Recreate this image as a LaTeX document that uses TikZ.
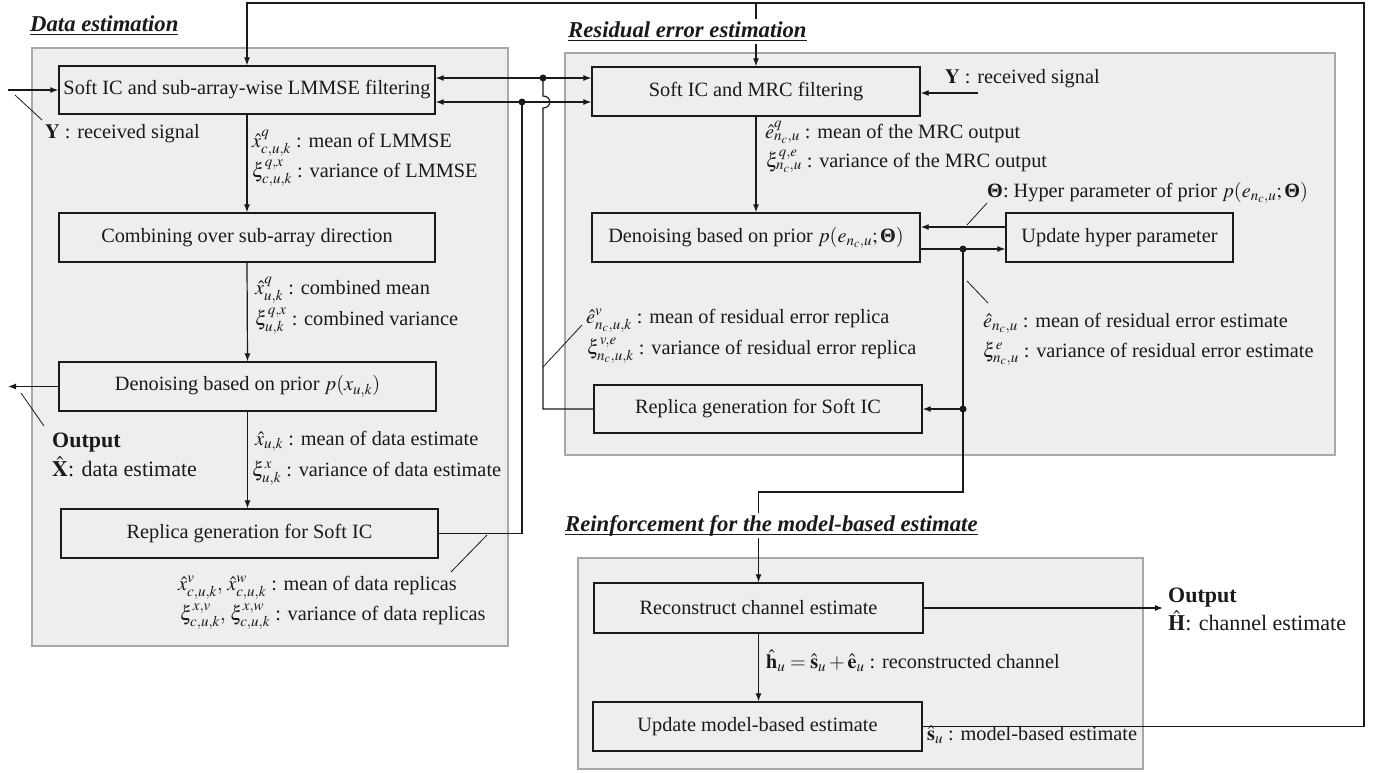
\documentclass[tikz,border=0pt]{standalone}
\usepackage{mathptmx}
\usepackage{fontspec}
\setmainfont{Liberation Serif}
\usetikzlibrary{arrows.meta}
\definecolor{panelfill}{HTML}{EDEEF0}
\definecolor{panelline}{HTML}{A8A8A8}
\definecolor{ink}{HTML}{1A1A1A}
\newcommand\ttltext[1]{\underline{\raisebox{0pt}[\height][0pt]{#1}}}
\begin{document}
\begin{tikzpicture}[x=1pt,y=-1pt,
  every node/.style={font=\fontsize{20.3}{24.4}\selectfont, text=ink},
  panel/.style={draw=panelline, line width=1.5pt, fill=panelfill},
  box/.style={draw=ink, line width=1.3pt, inner sep=0pt},
  conn/.style={draw=ink, line width=1.2pt},
  arr/.style={conn, -{Latex[length=8pt,width=6pt]}},
  darr/.style={conn, {Latex[length=8pt,width=6pt]}-{Latex[length=8pt,width=6pt]}},
  dot/.style={circle, fill=ink, inner sep=0pt, minimum size=7pt},
  tick/.style={draw=ink, line width=0.8pt},
  lbl/.style={anchor=base west, inner sep=0pt},
  outlbl/.style={lbl, font=\fontsize{22}{26}\selectfont},
  ttl/.style={anchor=base west, inner xsep=0pt, inner ysep=2.5pt, fill=white,
    font=\fontsize{22.7}{27}\selectfont\bfseries\itshape}
]
\useasboundingbox (0,0) rectangle (1380,772);

% panels
\path[panel] (32,48) rectangle (508,646);
\path[panel] (565,53) rectangle (1335,455);
\path[panel] (578,558) rectangle (1143,769);

% boxes - data estimation
\node[box, minimum width=376pt, minimum height=48pt] (L1) at (247,90) {Soft IC and sub-array-wise LMMSE filtering};
\node[box, minimum width=376pt, minimum height=49pt] (L2) at (247,237.5) {Combining over sub-array direction};
\node[box, minimum width=377pt, minimum height=49pt] (L3) at (247.5,386.5) {Denoising based on prior $p(x_{u,k})$};
\node[box, minimum width=377pt, minimum height=49pt] (L4) at (249.5,533.5) {Replica generation for Soft IC};

% boxes - residual error estimation
\node[box, minimum width=328pt, minimum height=49pt] (R1) at (756,91.5) {Soft IC and MRC filtering};
\node[box, minimum width=328pt, minimum height=49pt] (R2) at (756,237.5) {Denoising based on prior $p(e_{n_c,u};\mbox{\bfseries Θ})$};
\node[box, minimum width=227pt, minimum height=49pt] (R3) at (1119.5,237.5) {Update hyper parameter};
\node[box, minimum width=328pt, minimum height=48pt] (R4) at (758,409) {Replica generation for Soft IC};

% boxes - reinforcement
\node[box, minimum width=329pt, minimum height=50pt] (B1) at (758.5,608) {Reconstruct channel estimate};
\node[box, minimum width=329pt, minimum height=49pt] (B2) at (757.5,726.5) {Update model-based estimate};

% coordinates
\coordinate (fb) at (1364,3);
\coordinate (yinL) at (8,90);
\coordinate (xout) at (8,386.5);
\coordinate (yinR) at (978,93);
\coordinate (hout) at (1163,608);
\coordinate (rb) at (963,492);
\node[dot] (j1) at (543,78) {};
\node[dot] (j2) at (522,102) {};
\node[dot] (j3) at (963,249) {};
\node[dot] (j4) at (963,409) {};

% feedback from model-based estimate
\draw[arr] (B2.east) -| (fb) -| (L1.north);
\draw[arr] (fb -| R1.north) -- (R1.north);

% data estimation chain
\draw[arr] (yinL) -- (L1.west);
\draw[arr] (L1.south) -- (L2.north);
\draw[arr] (L2.south) -- (L3.north);
\draw[arr] (L3.south) -- (L3.south |- L4.north);
\draw[arr] (L3.west) -- (xout);

% links between data and residual estimation
\draw[darr] ([yshift=12pt]L1.east) -- ([yshift=12pt]L1.east -| R1.west);
\draw[darr] ([yshift=-12pt]L1.east) -- ([yshift=-12pt]L1.east -| R1.west);
\draw[conn] (L4.east) -| (j2.center);
\draw[conn] (j1.center) -- (543,96) .. controls (552,96) and (552,108) .. (543,108) -- (j1 |- R4.west) -- (R4.west);

% residual estimation chain
\draw[arr] (yinR) -- (yinR -| R1.east);
\draw[arr] (R1.south) -- (R2.north);
\draw[arr] ([yshift=10.5pt]R3.west) -- ([yshift=10.5pt]R3.west -| R2.east);
\draw[arr] ([yshift=-11.5pt]R2.east) -- ([yshift=-11.5pt]R2.east -| R3.west);
\draw[arr] (j4.center) -- (R4.east);
\draw[arr] (j3.center) -- (rb) -| (B1.north);

% reinforcement chain
\draw[arr] (B1.south) -- (B1.south |- B2.north);
\draw[arr] (B1.east) -- (hout);

% ticks
\draw[tick] (15,95) -- (42,120);
\draw[tick] (21,393) -- (44,426);
\draw[tick] (487,535) -- (451,572);
\draw[tick] (543,367) -- (582,325);
\draw[tick] (967,225) -- (987,203);
\draw[tick] (967,281) -- (988,303);

% labels
\node[lbl] (t1) at (45,138) {$\mathbf{Y}$ : received signal};
\node[lbl] (t2) at (252,147) {$\hat{x}^{q}_{c,u,k}$ : mean of LMMSE};
\node[lbl] (t3) at (252,177) {$\xi^{q,x}_{c,u,k}$ : variance of LMMSE};
\node[lbl] (t4) at (255,294) {$\hat{x}^{q}_{u,k}$ : combined mean};
\node[lbl] (t5) at (255,325) {$\xi^{q,x}_{u,k}$ : combined variance};
\node[lbl] (t6) at (255,445) {$\hat{x}_{u,k}$ : mean of data estimate};
\node[lbl] (t7) at (252,476) {$\xi^{x}_{u,k}$ : variance of data estimate};
\node[outlbl] (t8) at (52,447) {\textbf{Output}};
\node[outlbl] (t9) at (52,476) {$\hat{\mathbf{X}}$: data estimate};
\node[lbl] (t10) at (178,590) {$\hat{x}^{v}_{c,u,k},\,\hat{x}^{w}_{c,u,k}$ : mean of data replicas};
\node[lbl] (t11) at (180,620) {$\xi^{x,v}_{c,u,k},\,\xi^{x,w}_{c,u,k}$ : variance of data replicas};
\node[lbl] (t12) at (945,83) {$\mathbf{Y}$ : received signal};
\node[lbl] (t13) at (765,138) {$\hat{e}^{q}_{n_c,u}$ : mean of the MRC output};
\node[lbl] (t14) at (766,167) {$\xi^{q,e}_{n_c,u}$ : variance of the MRC output};
\node[lbl] (t15) at (987,197) {\textbf{Θ}: Hyper parameter of prior $p(e_{n_c,u};\mbox{\bfseries Θ})$};
\node[lbl] (t16) at (586,323) {$\hat{e}^{v}_{n_c,u,k}$ : mean of residual error replica};
\node[lbl] (t17) at (587,354) {$\xi^{v,e}_{n_c,u,k}$ : variance of residual error replica};
\node[lbl] (t18) at (983,327) {$\hat{e}_{n_c,u}$ : mean of residual error estimate};
\node[lbl] (t19) at (983,357) {$\xi^{e}_{n_c,u}$ : variance of residual error estimate};
\node[lbl] (t20) at (766,668) {$\hat{\mathbf{h}}_u = \hat{\mathbf{s}}_u + \hat{\mathbf{e}}_u$ : reconstructed channel};
\node[lbl] (t21) at (927,740) {$\hat{\mathbf{s}}_u$ : model-based estimate};
\node[outlbl] (t22) at (1168,602) {\textbf{Output}};
\node[outlbl] (t23) at (1168,630) {$\hat{\mathbf{H}}$: channel estimate};

% titles
\node[ttl] (T1) at (30,31) {\ttltext{Data estimation}};
\node[ttl] (T2) at (568,37) {\ttltext{Residual error estimation}};
\node[ttl] (T3) at (565,531) {\ttltext{Reinforcement for the model-based estimate}};
\end{tikzpicture}
\end{document}
